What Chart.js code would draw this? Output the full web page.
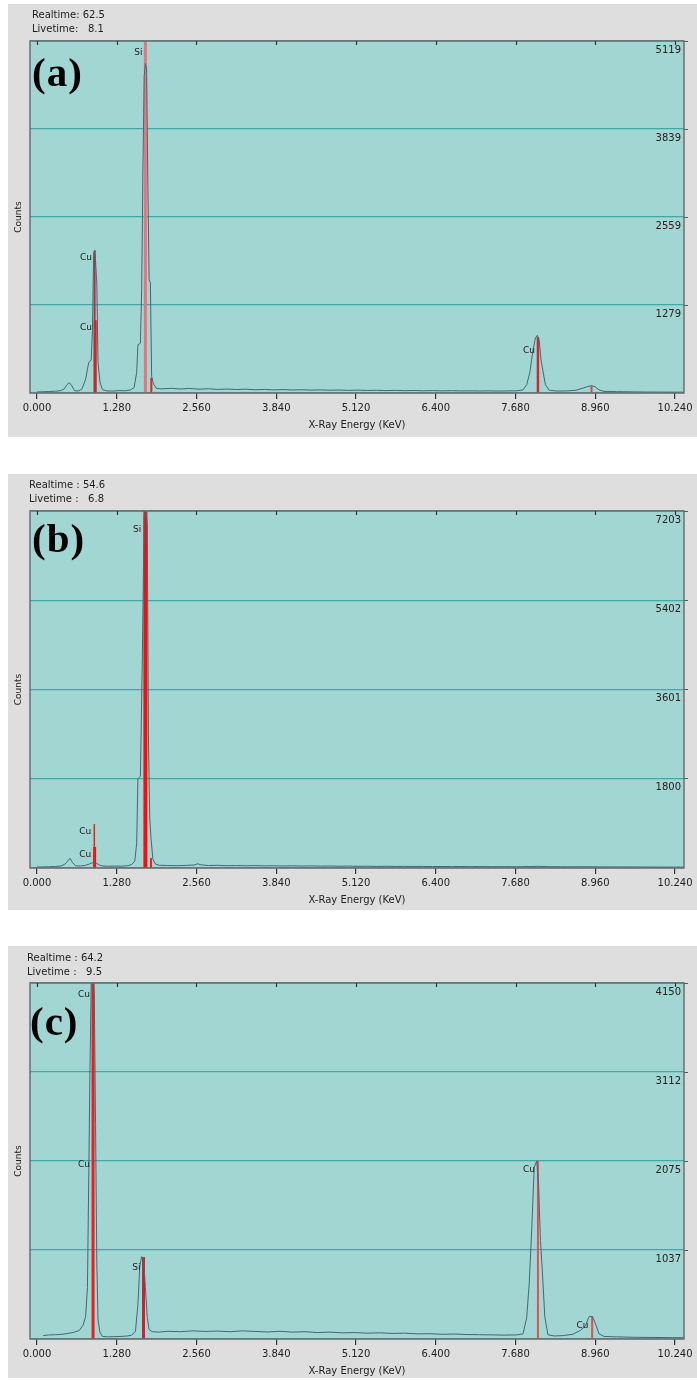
<!DOCTYPE html>
<html>
<head>
<meta charset="utf-8">
<script src="https://cdn.jsdelivr.net/npm/chart.js@4.4.1/dist/chart.umd.min.js"></script>
<style>
  body { margin: 0; background: #fff; width: 697px; height: 1380px; position: relative; font-family: "DejaVu Sans", sans-serif; }
  .panel { position: absolute; left: 8px; width: 689px; background: #dedede; }
  .panel canvas { position: absolute; left: 0; top: 0; }
  .times { position: absolute; font-size: 10px; line-height: 14px; color: #222; white-space: pre; }
  .tag { position: absolute; font: bold 41px "Liberation Serif", serif; line-height: 40px; letter-spacing: 1px; color: #000; }
</style>
</head>
<body>

<div class="panel" id="pa" style="top:4px;height:433px">
  <canvas id="ca" width="689" height="433"></canvas>
  <div class="times" style="left:24px;top:4px">Realtime: 62.5
Livetime:   8.1</div>
  <div class="tag" style="left:24px;top:48px">(a)</div>
</div>

<div class="panel" id="pb" style="top:474px;height:436px">
  <canvas id="cb" width="689" height="436"></canvas>
  <div class="times" style="left:21px;top:4px">Realtime : 54.6
Livetime :   6.8</div>
  <div class="tag" style="left:24px;top:44px">(b)</div>
</div>

<div class="panel" id="pc" style="top:946px;height:432px">
  <canvas id="cc" width="689" height="432"></canvas>
  <div class="times" style="left:19px;top:5px">Realtime : 64.2
Livetime :   9.5</div>
  <div class="tag" style="left:22px;top:55px">(c)</div>
</div>

<script>
// x axis (keV)
const xTickValues = [0, 1.28, 2.56, 3.84, 5.12, 6.4, 7.68, 8.96, 10.24];
const X_MIN = -0.112;
const X_MAX = 10.384;

// ---- panel (a) ----
const yTicksA = [1279, 2559, 3839, 5119];
const spectrumA = [
  [0.00,15],[0.10,18],[0.20,22],[0.30,26],[0.38,35],[0.44,60],[0.48,120],[0.52,150],[0.56,105],[0.60,35],
  [0.66,28],[0.72,55],[0.78,200],[0.83,440],[0.87,480],[0.89,900],[0.91,2040],[0.93,2073],[0.96,1600],[0.98,440],
  [1.01,160],[1.05,50],[1.12,30],[1.22,28],[1.32,35],[1.42,32],[1.50,45],[1.56,80],[1.60,300],[1.62,700],
  [1.66,725],[1.68,1500],[1.70,3200],[1.72,4600],[1.74,4790],[1.76,4700],[1.78,3000],[1.80,1650],[1.82,1600],[1.84,240],
  [1.87,130],[1.92,65],[2.00,60],[2.15,68],[2.30,58],[2.45,66],[2.60,55],[2.75,62],[2.90,52],[3.05,58],
  [3.20,50],[3.35,56],[3.50,47],[3.65,52],[3.80,45],[3.95,50],[4.10,44],[4.25,48],[4.40,42],[4.55,46],
  [4.70,40],[4.85,44],[5.00,38],[5.15,42],[5.30,37],[5.45,40],[5.60,35],[5.75,39],[5.90,34],[6.05,37],
  [6.20,32],[6.35,35],[6.50,31],[6.65,34],[6.80,30],[6.95,32],[7.10,29],[7.25,31],[7.40,28],[7.55,30],
  [7.70,32],[7.80,45],[7.86,120],[7.91,300],[7.96,620],[8.00,800],[8.03,840],[8.06,760],[8.09,480],[8.12,320],
  [8.16,120],[8.22,40],[8.35,28],[8.50,30],[8.65,40],[8.76,70],[8.84,95],[8.90,105],[8.96,90],[9.02,45],
  [9.10,24],[9.30,20],[9.55,16],[9.80,14],[10.05,13],[10.38,12]
];
const markerEnergyA = [1.74, 1.835, 0.925, 0.935, 8.04, 8.90];
const markerTopA    = [5119, 220, 2073, 1058, 812, 105];
const labelTextA    = ['Si', 'Cu', 'Cu', 'Cu'];
const labelEnergyA  = [1.74, 0.93, 0.93, 8.04];
const labelCountA   = [4950, 1972, 943, 609];

// ---- panel (b) ----
const yTicksB = [1800, 3601, 5402, 7203];
const spectrumB = [
  [0.00,20],[0.10,22],[0.20,25],[0.30,30],[0.40,45],[0.46,90],[0.50,150],[0.53,195],[0.57,110],[0.62,45],
  [0.70,40],[0.78,55],[0.84,80],[0.88,100],[0.92,117],[0.96,95],[1.00,60],[1.06,40],[1.15,35],[1.25,38],
  [1.35,36],[1.45,45],[1.52,70],[1.57,140],[1.60,500],[1.62,1800],[1.66,1850],[1.69,4200],[1.72,7100],[1.75,7250],
  [1.77,6900],[1.79,2500],[1.81,1000],[1.83,600],[1.86,180],[1.90,80],[1.96,55],[2.10,50],[2.25,46],[2.40,52],
  [2.52,60],[2.58,85],[2.64,62],[2.75,50],[2.90,54],[3.05,46],[3.20,50],[3.35,44],[3.50,48],[3.65,42],
  [3.80,46],[3.95,40],[4.10,44],[4.25,38],[4.40,42],[4.55,37],[4.70,40],[4.85,35],[5.00,38],[5.15,34],
  [5.30,36],[5.45,32],[5.60,35],[5.75,31],[5.90,33],[6.05,30],[6.20,32],[6.35,29],[6.50,31],[6.65,28],
  [6.80,30],[6.95,27],[7.10,29],[7.30,26],[7.50,28],[7.70,25],[7.90,30],[8.05,34],[8.20,27],[8.40,25],
  [8.60,24],[8.80,26],[9.00,23],[9.20,22],[9.45,21],[9.70,20],[9.95,19],[10.20,18],[10.38,18]
];
const markerEnergyB = [1.74, 1.83, 0.92, 0.925];
const markerTopB    = [7203, 200, 888, 424];
const labelTextB    = ['Si', 'Cu', 'Cu'];
const labelEnergyB  = [1.72, 0.92, 0.92];
const labelCountB   = [6820, 726, 262];

// ---- panel (c) ----
const yTicksC = [1037, 2075, 3112, 4150];
const spectrumC = [
  [0.10,40],[0.20,48],[0.30,50],[0.40,55],[0.50,65],[0.60,80],[0.68,100],[0.74,160],[0.78,260],[0.81,600],
  [0.83,1830],[0.85,3100],[0.87,4150],[0.90,4200],[0.92,4000],[0.94,2500],[0.96,900],[0.98,220],[1.01,80],[1.05,30],
  [1.15,25],[1.25,28],[1.35,30],[1.45,35],[1.52,45],[1.58,90],[1.62,400],[1.65,850],[1.68,960],[1.71,940],
  [1.74,600],[1.77,250],[1.80,110],[1.85,85],[1.95,80],[2.10,90],[2.30,85],[2.50,95],[2.70,88],[2.90,92],
  [3.10,85],[3.30,95],[3.50,88],[3.70,82],[3.90,90],[4.10,80],[4.30,85],[4.50,75],[4.70,80],[4.90,72],
  [5.10,75],[5.30,68],[5.50,72],[5.70,65],[5.90,68],[6.10,60],[6.30,62],[6.50,55],[6.70,58],[6.90,52],
  [7.10,50],[7.30,48],[7.50,45],[7.70,48],[7.80,60],[7.86,250],[7.90,650],[7.94,1270],[7.98,2000],[8.02,2075],
  [8.05,1800],[8.08,1150],[8.11,800],[8.15,260],[8.20,50],[8.30,35],[8.45,40],[8.60,55],[8.72,100],[8.80,150],
  [8.86,260],[8.91,265],[8.96,185],[9.02,60],[9.10,30],[9.30,25],[9.60,20],[9.90,18],[10.20,15],[10.38,15]
];
const markerEnergyC = [0.90, 1.71, 8.04, 8.91];
const markerTopC    = [4150, 955, 2078, 265];
const labelTextC    = ['Cu', 'Cu', 'Si', 'Cu', 'Cu'];
const labelEnergyC  = [0.90, 0.90, 1.71, 8.04, 8.90];
const labelCountC   = [4010, 2028, 828, 1970, 152];

// marker looks, same order as the marker arrays
const markerStyleA = [['#e8747c', 3], ['#e02828', 2], ['#b4303c', 2], ['#e81c1c', 3], ['#cf2a2a', 2.5], ['#e04848', 2]];
const markerStyleB = [['#f01010', 4], ['#e82020', 2], ['#e82020', 1.5], ['#e81010', 3]];
const markerStyleC = [['#e82020', 3], ['#cc2030', 3], ['#e25050', 2], ['#e25050', 2]];

const PLOT_BG = '#a1d6d2';
const GRID = '#40a9a6';

function overlay(labels) {
  return {
    id: 'overlay',
    beforeDraw(chart) {
      const { ctx, chartArea: a } = chart;
      ctx.save();
      ctx.fillStyle = PLOT_BG;
      ctx.fillRect(a.left, a.top, a.right - a.left, a.bottom - a.top);
      ctx.restore();
    },
    afterDraw(chart) {
      const { ctx, chartArea: a, scales } = chart;
      ctx.save();
      ctx.strokeStyle = '#6e6e6e';
      ctx.lineWidth = 1.5;
      ctx.strokeRect(a.left, a.top, a.right - a.left, a.bottom - a.top);
      // small ticks hanging from the top edge
      ctx.strokeStyle = '#333';
      ctx.lineWidth = 1.2;
      xTickValues.forEach(v => {
        const x = Math.round(scales.x.getPixelForValue(v)) + 0.5;
        ctx.beginPath();
        ctx.moveTo(x, a.top);
        ctx.lineTo(x, a.top + 4);
        ctx.stroke();
      });
      // element names beside the markers
      ctx.font = '9px "DejaVu Sans"';
      ctx.fillStyle = '#222';
      ctx.textAlign = 'right';
      ctx.textBaseline = 'middle';
      labels.text.forEach((t, i) => {
        ctx.fillText(t, scales.x.getPixelForValue(labels.energy[i]) - 3, scales.y.getPixelForValue(labels.count[i]));
      });
      ctx.restore();
    }
  };
}

function makePanel(canvasId, spectrum, yTicks, markE, markTop, markStyle, labels, padBottom) {
  const yMax = yTicks[yTicks.length - 1];
  const datasets = [{
    data: spectrum.map(p => ({ x: p[0], y: p[1] })),
    showLine: true,
    borderColor: '#4b6476',
    borderWidth: 1,
    pointRadius: 0,
    order: 0
  }];
  markE.forEach((e, i) => {
    datasets.push({
      data: [{ x: e, y: 0 }, { x: e, y: markTop[i] }],
      showLine: true,
      borderColor: markStyle[i][0],
      borderWidth: markStyle[i][1],
      pointRadius: 0,
      order: 1
    });
  });

  return new Chart(document.getElementById(canvasId), {
    type: 'scatter',
    data: { datasets },
    options: {
      responsive: false,
      animation: false,
      devicePixelRatio: 1,
      layout: { padding: { top: 37, right: 9, left: 0, bottom: padBottom } },
      plugins: { legend: { display: false }, tooltip: { enabled: false } },
      scales: {
        x: {
          type: 'linear',
          min: X_MIN,
          max: X_MAX,
          afterBuildTicks: s => { s.ticks = xTickValues.map(v => ({ value: v })); },
          afterFit: s => { s.height = 38; },
          ticks: {
            callback: v => Number(v).toFixed(3),
            font: { size: 10, family: 'DejaVu Sans' },
            color: '#222',
            padding: 3,
            maxRotation: 0,
            autoSkip: false
          },
          grid: { drawOnChartArea: false, drawTicks: true, tickLength: 6, color: '#333', lineWidth: 1.2 },
          border: { display: false },
          title: {
            display: true,
            text: 'X-Ray Energy (KeV)',
            font: { size: 10, family: 'DejaVu Sans' },
            color: '#222',
            padding: { top: 0, bottom: 0 }
          }
        },
        y: {
          type: 'linear',
          position: 'left',
          min: 0,
          max: yMax,
          afterBuildTicks: s => { s.ticks = [0].concat(yTicks).map(v => ({ value: v })); },
          afterFit: s => { s.width = 22; },
          ticks: { display: false },
          grid: { color: GRID, lineWidth: 1.2, drawTicks: false },
          border: { display: false },
          title: {
            display: true,
            text: 'Counts',
            font: { size: 9, family: 'DejaVu Sans' },
            color: '#222',
            padding: { top: 5, bottom: 0 }
          }
        },
        yR: {
          type: 'linear',
          position: 'right',
          min: 0,
          max: yMax,
          afterBuildTicks: s => { s.ticks = yTicks.map(v => ({ value: v })); },
          afterFit: s => { s.width = 4; },
          ticks: {
            mirror: true,
            padding: -3,
            labelOffset: 9,
            callback: v => String(v),
            font: { size: 10, family: 'DejaVu Sans' },
            color: '#222'
          },
          grid: { drawOnChartArea: false, drawTicks: true, tickLength: 4, color: '#555' },
          border: { display: false }
        }
      }
    },
    plugins: [overlay(labels)]
  });
}

makePanel('ca', spectrumA, yTicksA, markerEnergyA, markerTopA, markerStyleA,
  { text: labelTextA, energy: labelEnergyA, count: labelCountA }, 6);
makePanel('cb', spectrumB, yTicksB, markerEnergyB, markerTopB, markerStyleB,
  { text: labelTextB, energy: labelEnergyB, count: labelCountB }, 4);
makePanel('cc', spectrumC, yTicksC, markerEnergyC, markerTopC, markerStyleC,
  { text: labelTextC, energy: labelEnergyC, count: labelCountC }, 1);
</script>
</body>
</html>
